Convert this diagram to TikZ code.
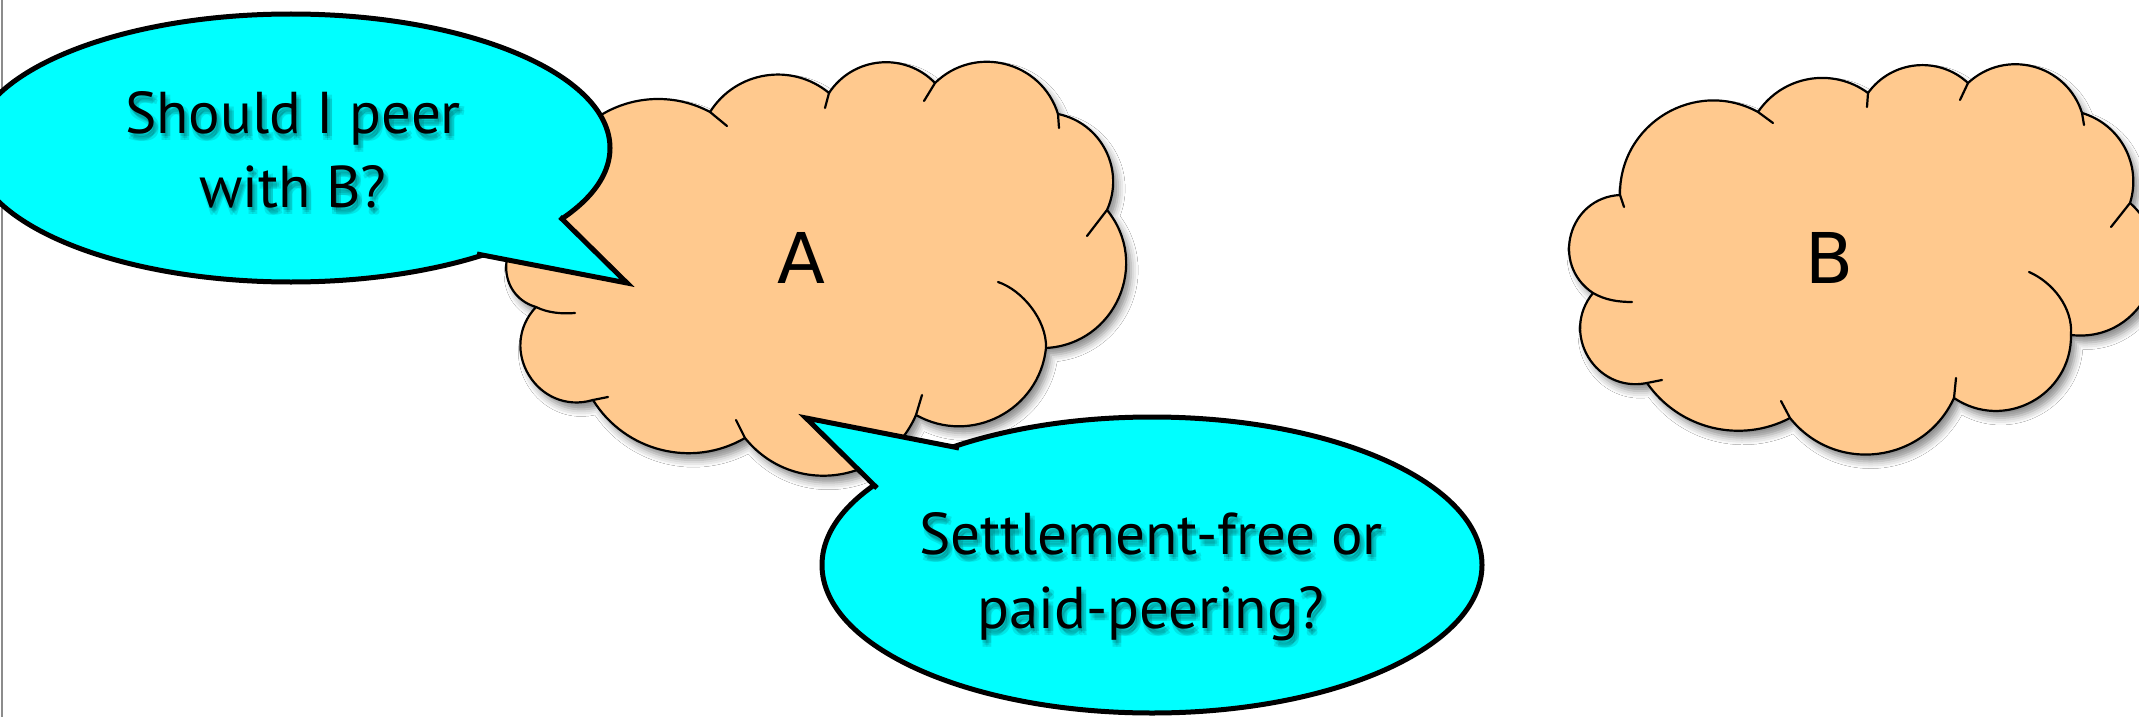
\documentclass[tikz,border=0pt]{standalone}
\usepackage{fontspec}
\setmainfont{PT Sans}
\newfontfamily\lblfont{DejaVu Sans}
\usetikzlibrary{calc,shadows.blur}
\definecolor{cloudfill}{RGB}{255,201,142}
\definecolor{bubblefill}{RGB}{0,255,255}
% circular-arc bump from P through apex M to Q
\newcommand\cbcalc[6]{%
  \pgfmathsetmacro\cbdx{(#5-#1)/100}%
  \pgfmathsetmacro\cbdy{(#6-#2)/100}%
  \pgfmathsetmacro\cbwx{(#3-(#1+#5)/2)/100}%
  \pgfmathsetmacro\cbwy{(#4-(#2+#6)/2)/100}%
  \pgfmathsetmacro\cbcc{\cbdx*\cbdx+\cbdy*\cbdy}%
  \pgfmathsetmacro\cbpr{(\cbwx*\cbdx+\cbwy*\cbdy)/\cbcc}%
  \pgfmathsetmacro\cbnx{\cbwx-\cbpr*\cbdx}%
  \pgfmathsetmacro\cbny{\cbwy-\cbpr*\cbdy}%
  \pgfmathsetmacro\cbhh{\cbnx*\cbnx+\cbny*\cbny}%
  \pgfmathsetmacro\cbff{(1-4*\cbhh/\cbcc)/3}%
  \pgfmathparse{#1+100*(\cbff*\cbdx+4/3*\cbnx)}\xdef\cbax{\pgfmathresult}%
  \pgfmathparse{#2+100*(\cbff*\cbdy+4/3*\cbny)}\xdef\cbay{\pgfmathresult}%
  \pgfmathparse{#5+100*(-\cbff*\cbdx+4/3*\cbnx)}\xdef\cbbx{\pgfmathresult}%
  \pgfmathparse{#6+100*(-\cbff*\cbdy+4/3*\cbny)}\xdef\cbby{\pgfmathresult}%
}
\def\cbsplit#1,#2,#3,#4,#5,#6\relax{\cbcalc{#1}{#2}{#3}{#4}{#5}{#6}}
\newcommand\cbump[3]{\pgfextra{\cbsplit#1,#2,#3\relax} .. controls (\cbax,\cbay) and (\cbbx,\cbby) .. (#3)}
\tikzset{
  cloud/.style={fill=cloudfill, draw=black, line width=2.2pt, line join=round,
    blur shadow={shadow xshift=5pt, shadow yshift=-7pt, shadow blur radius=7pt, shadow opacity=45}},
  cusp/.style={draw=black, line width=2.2pt, line cap=round},
  bubble/.style={fill=bubblefill, draw=black, line width=5pt},
  tailfill/.style={fill=bubblefill},
  tailline/.style={draw=black, line width=5pt, line join=miter},
  bubbletext/.style={font=\fontsize{59}{74}\selectfont, align=center, text=black, inner sep=0pt},
  textshade/.style={bubbletext, text opacity=0.1},
  cloudlabel/.style={font=\lblfont\fontsize{70}{80}\selectfont, inner sep=0pt},
  edgeline/.style={draw=black!45, line width=2pt}
}
\begin{document}
\begin{tikzpicture}[x=1pt,y=-1pt]
\useasboundingbox (0,0) rectangle (2139,717);
\clip (0,0) rectangle (2139,717);
\fill[white] (0,0) rectangle (2139,717);
\draw[edgeline] (1.5,0) -- (1.5,717);

% cloud A
\path[cloud] (601,115) \cbump{601,115}{656,99}{710,112} \cbump{710,112}{775,74}{829,93}
  \cbump{829,93}{885,62}{935,83} \cbump{935,83}{1005,64}{1058,114}
  \cbump{1058,114}{1108,155}{1107,210} \cbump{1107,210}{1120,295}{1046,348}
  \cbump{1046,348}{1000,416}{916,415} \cbump{916,415}{828,476}{745,438}
  \cbump{745,438}{662,450}{593,400} \cbump{593,400}{530,377}{536,307}
  \cbump{536,307}{506,268}{542,226} \cbump{542,226}{555,160}{601,115} -- cycle;
\draw[cusp] (710,112) -- (727,126);
\draw[cusp] (829,93) -- (825,108);
\draw[cusp] (935,83) -- (924,101);
\draw[cusp] (1058,114) -- (1059,128);
\draw[cusp] (1107,210) -- (1087,236);
\draw[cusp] (1046,348) .. controls (1047,320) and (1022,290) .. (998,282);
\draw[cusp] (916,415) -- (922,395);
\draw[cusp] (745,438) -- (736,420);
\draw[cusp] (593,400) -- (608,397);
\draw[cusp] (536,307) .. controls (548,313) and (562,314) .. (575,313);
\node[cloudlabel] (la) at (801,258) {A};

% cloud B
\path[cloud] (1620,195) \cbump{1620,195}{1665,114}{1758,112} \cbump{1758,112}{1815,78}{1868,93}
  \cbump{1868,93}{1920,65}{1968,83} \cbump{1968,83}{2035,67}{2082,113}
  \cbump{2082,113}{2126,150}{2130,203} \cbump{2130,203}{2150,288}{2071,335}
  \cbump{2071,335}{2035,400}{1954,398} \cbump{1954,398}{1868,455}{1790,418}
  \cbump{1790,418}{1730,432}{1647,383} \cbump{1647,383}{1590,360}{1593,293}
  \cbump{1593,293}{1570,238}{1620,195} -- cycle;
\draw[cusp] (1620,195) -- (1624,207);
\draw[cusp] (1758,112) -- (1773,123);
\draw[cusp] (1868,93) -- (1867,107);
\draw[cusp] (1968,83) -- (1960,100);
\draw[cusp] (2082,113) -- (2084,125);
\draw[cusp] (2130,203) -- (2111,227);
\draw[cusp] (2071,335) .. controls (2073,307) and (2052,282) .. (2029,272);
\draw[cusp] (1954,398) -- (1956,378);
\draw[cusp] (1790,418) -- (1781,401);
\draw[cusp] (1647,383) -- (1662,380);
\draw[cusp] (1593,293) .. controls (1605,300) and (1618,302) .. (1632,302);
\node[cloudlabel] (lb) at (1829,258) {B};

% bubble 1
\path[bubble] (291,148) ellipse [x radius=319, y radius=134];
\path[tailfill] (560,217) -- (627,283) -- (477,254) -- cycle;
\draw[tailline] (560,217) -- (627,283) -- (477,254);
\foreach \sx/\sy [count=\i] in {3/5,1/3,5/3,1/7,5/7}
  \node[textshade] (q1s\i) at (293+\sx,150+\sy) {Should I peer\\with B?};
\node[bubbletext] (q1) at (293,150) {Should I peer\\with B?};

% bubble 2
\path[bubble] (1152,565) ellipse [x radius=330, y radius=148];
\path[tailfill] (959,448) -- (806,418) -- (877,488) -- cycle;
\draw[tailline] (959,448) -- (806,418) -- (877,488);
\foreach \sx/\sy [count=\i] in {3/5,1/3,5/3,1/7,5/7}
  \node[textshade] (q2s\i) at (1151+\sx,577+\sy) {Settlement-free or\\paid-peering?};
\node[bubbletext] (q2) at (1151,577) {Settlement-free or\\paid-peering?};
\end{tikzpicture}
\end{document}
